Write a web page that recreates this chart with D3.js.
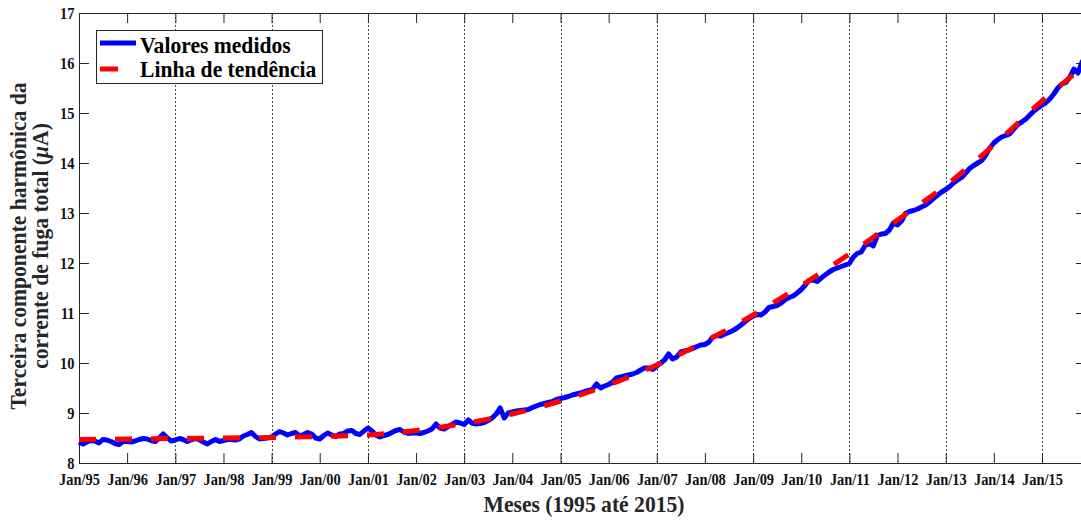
<!DOCTYPE html>
<html>
<head>
<meta charset="utf-8">
<script src="https://cdn.jsdelivr.net/npm/d3@7"></script>
<style>
  body { margin: 0; background: #fff; }
  svg { display: block; font-family: "Liberation Serif", "Times New Roman", serif; font-weight: bold; }
</style>
</head>
<body>
<script>
// monthly readings, Jan/95 .. Dec/15
const startYear = 1995;
const measured = [
  8.42, 8.38, 8.42, 8.45, 8.44, 8.40, 8.47, 8.46, 8.43, 8.39, 8.37, 8.43,
  8.43, 8.42, 8.44, 8.47, 8.49, 8.48, 8.45, 8.43, 8.50, 8.58, 8.50, 8.44,
  8.46, 8.49, 8.47, 8.43, 8.46, 8.49, 8.47, 8.42, 8.38, 8.43, 8.47, 8.43,
  8.45, 8.47, 8.47, 8.46, 8.48, 8.54, 8.57, 8.61, 8.53, 8.48, 8.49, 8.50,
  8.52, 8.58, 8.63, 8.60, 8.56, 8.59, 8.61, 8.54, 8.57, 8.61, 8.58, 8.50,
  8.48, 8.55, 8.60, 8.56, 8.53, 8.58, 8.59, 8.64, 8.65, 8.59, 8.57, 8.64,
  8.70, 8.64, 8.56, 8.52, 8.55, 8.57, 8.61, 8.65, 8.67, 8.62, 8.59, 8.60,
  8.60, 8.59, 8.61, 8.64, 8.68, 8.78, 8.70, 8.68, 8.73, 8.77, 8.82, 8.80,
  8.77, 8.86, 8.80, 8.78, 8.79, 8.81, 8.85, 8.90, 8.98, 9.10, 8.90, 9.00,
  9.02, 9.04, 9.05, 9.06, 9.07, 9.11, 9.14, 9.17, 9.19, 9.21, 9.23, 9.27,
  9.29, 9.31, 9.33, 9.36, 9.38, 9.40, 9.43, 9.45, 9.48, 9.58, 9.50, 9.54,
  9.57, 9.62, 9.70, 9.72, 9.74, 9.76, 9.78, 9.81, 9.86, 9.90, 9.90, 9.87,
  9.94, 10.00, 10.06, 10.18, 10.08, 10.12, 10.22, 10.24, 10.26, 10.29, 10.33, 10.36,
  10.37, 10.42, 10.52, 10.55, 10.54, 10.58, 10.61, 10.65, 10.70, 10.76, 10.83, 10.89,
  10.94, 10.97, 10.96, 11.02, 11.11, 11.13, 11.15, 11.20, 11.27, 11.31, 11.34, 11.40,
  11.47, 11.56, 11.65, 11.66, 11.63, 11.70, 11.76, 11.82, 11.87, 11.90, 11.93, 11.96,
  11.99, 12.12, 12.19, 12.22, 12.35, 12.39, 12.34, 12.55, 12.58, 12.59, 12.66, 12.80,
  12.76, 12.84, 12.99, 13.03, 13.05, 13.08, 13.12, 13.16, 13.22, 13.29, 13.36, 13.42,
  13.47, 13.53, 13.60, 13.66, 13.71, 13.80, 13.89, 13.95, 14.00, 14.05, 14.16, 14.30,
  14.40, 14.47, 14.52, 14.55, 14.58, 14.68, 14.77, 14.82, 14.88, 14.96, 15.04, 15.10,
  15.16, 15.21, 15.28, 15.38, 15.50, 15.58, 15.61, 15.72, 15.88, 15.80, 16.02, 16.15
];

// trend line, read at each January plus the last month
const trendMonths = [0, 12, 24, 36, 48, 60, 72, 84, 96, 108, 120, 132, 144, 156, 168, 180, 192, 204, 216, 228, 240, 251];
const trendValues = [8.47, 8.48, 8.49, 8.50, 8.51, 8.53, 8.56, 8.65, 8.79, 8.98, 9.24, 9.56, 9.96, 10.43, 10.96, 11.55, 12.18, 12.86, 13.55, 14.36, 15.24, 15.97];

const tickLabels = ["Jan/95","Jan/96","Jan/97","Jan/98","Jan/99","Jan/00","Jan/01","Jan/02","Jan/03","Jan/04",
  "Jan/05","Jan/06","Jan/07","Jan/08","Jan/09","Jan/10","Jan/11","Jan/12","Jan/13","Jan/14","Jan/15"];
const yTicks = [8, 9, 10, 11, 12, 13, 14, 15, 16, 17];

const seriesNames = ["Valores medidos", "Linha de tendência"];
const xTitle = "Meses (1995 até 2015)";
const yTitle1 = "Terceira componente harmônica da";

const width = 1081, height = 520,
  pLeft = 79, pTop = 13, pRight = 1086, pBottom = 463;

const monthDate = i => d3.timeMonth.offset(new Date(startYear, 0, 1), i);

const svg = d3.select("body").append("svg")
  .attr("width", width)
  .attr("height", height);

const x = d3.scaleTime()
  .domain([monthDate(0), monthDate(measured.length - 1)])
  .range([pLeft, pRight]);
const y = d3.scaleLinear().domain([8, 17]).range([pBottom, pTop]);

const tickDates = tickLabels.map((d, i) => monthDate(i * 12));

// vertical grid, every other year
svg.append("g")
  .selectAll("line")
  .data(tickDates.filter((d, i) => i > 0 && i % 2 === 0))
  .join("line")
    .attr("x1", d => Math.round(x(d)) + 0.5)
    .attr("x2", d => Math.round(x(d)) + 0.5)
    .attr("y1", pTop)
    .attr("y2", pBottom)
    .attr("stroke", "#4a4a4a")
    .attr("stroke-width", 1)
    .attr("stroke-dasharray", "2,2");

// axes, ticks pointing inward
const axisColor = "#262626";
function styleAxis(g) {
  g.selectAll("path, line").attr("stroke", axisColor);
  g.selectAll("text")
    .attr("fill", "#111")
    .attr("font-size", 16)
    .attr("font-family", "Liberation Serif, Times New Roman, serif")
    .attr("font-weight", "bold")
    .attr("transform", "scale(0.9,1)");
}

svg.append("g")
  .attr("transform", `translate(0,${pBottom})`)
  .call(d3.axisBottom(x).tickValues(tickDates).tickFormat((d, i) => tickLabels[i])
    .tickSize(-10).tickSizeOuter(0).tickPadding(11))
  .call(styleAxis);

svg.append("g")
  .attr("transform", `translate(0,${pTop})`)
  .call(d3.axisTop(x).tickValues(tickDates).tickFormat("").tickSize(-10).tickSizeOuter(0))
  .call(styleAxis);

svg.append("g")
  .attr("transform", `translate(${pLeft},0)`)
  .call(d3.axisLeft(y).tickValues(yTicks).tickFormat(d3.format("d"))
    .tickSize(-10).tickSizeOuter(0).tickPadding(5))
  .call(styleAxis);

svg.append("g")
  .attr("transform", `translate(${pRight},0)`)
  .call(d3.axisRight(y).tickValues(yTicks).tickFormat("").tickSize(-10).tickSizeOuter(0))
  .call(styleAxis);

// lines
const measuredLine = d3.line()
  .x((d, i) => x(monthDate(i)))
  .y(d => y(d));

svg.append("path")
  .datum(measured)
  .attr("fill", "none")
  .attr("stroke", "#0000ff")
  .attr("stroke-width", 5)
  .attr("stroke-linejoin", "round")
  .attr("d", measuredLine);

const trendLine = d3.line()
  .x((d, i) => x(monthDate(trendMonths[i])))
  .y(d => y(d))
  .curve(d3.curveMonotoneX);

svg.append("path")
  .datum(trendValues)
  .attr("fill", "none")
  .attr("stroke", "#ff0000")
  .attr("stroke-width", 5)
  .attr("stroke-dasharray", "17,19")
  .attr("d", trendLine);

// legend
const legend = svg.append("g");
legend.append("rect")
  .attr("x", 96.5).attr("y", 30.5)
  .attr("width", 226).attr("height", 53)
  .attr("fill", "#fff")
  .attr("stroke", axisColor);

legend.append("line")
  .attr("x1", 100).attr("x2", 136).attr("y1", 43).attr("y2", 43)
  .attr("stroke", "#0000ff").attr("stroke-width", 5);
legend.append("line")
  .attr("x1", 100).attr("x2", 118).attr("y1", 69).attr("y2", 69)
  .attr("stroke", "#ff0000").attr("stroke-width", 5);

legend.selectAll("text")
  .data(seriesNames)
  .join("text")
    .attr("transform", (d, i) => `translate(140,${i ? 77 : 53}) scale(0.9,1)`)
    .attr("font-size", 24)
    .attr("fill", "#000")
    .text(d => d);

// axis titles
svg.append("text")
  .attr("transform", "translate(584,512) scale(0.94,1)")
  .attr("text-anchor", "middle")
  .attr("font-size", 23)
  .attr("fill", "#262626")
  .text(xTitle);

const yt = svg.append("g")
  .attr("fill", "#262626")
  .attr("font-size", 23)
  .attr("text-anchor", "middle");

yt.append("text")
  .attr("transform", "translate(26,246) rotate(-90) scale(0.94,1)")
  .text(yTitle1);

const yt2 = yt.append("text")
  .attr("transform", "translate(48,246) rotate(-90) scale(0.94,1)");
yt2.append("tspan").text("corrente de fuga total (");
yt2.append("tspan").attr("font-style", "italic").text("μ");
yt2.append("tspan").text("A)");
</script>
</body>
</html>
